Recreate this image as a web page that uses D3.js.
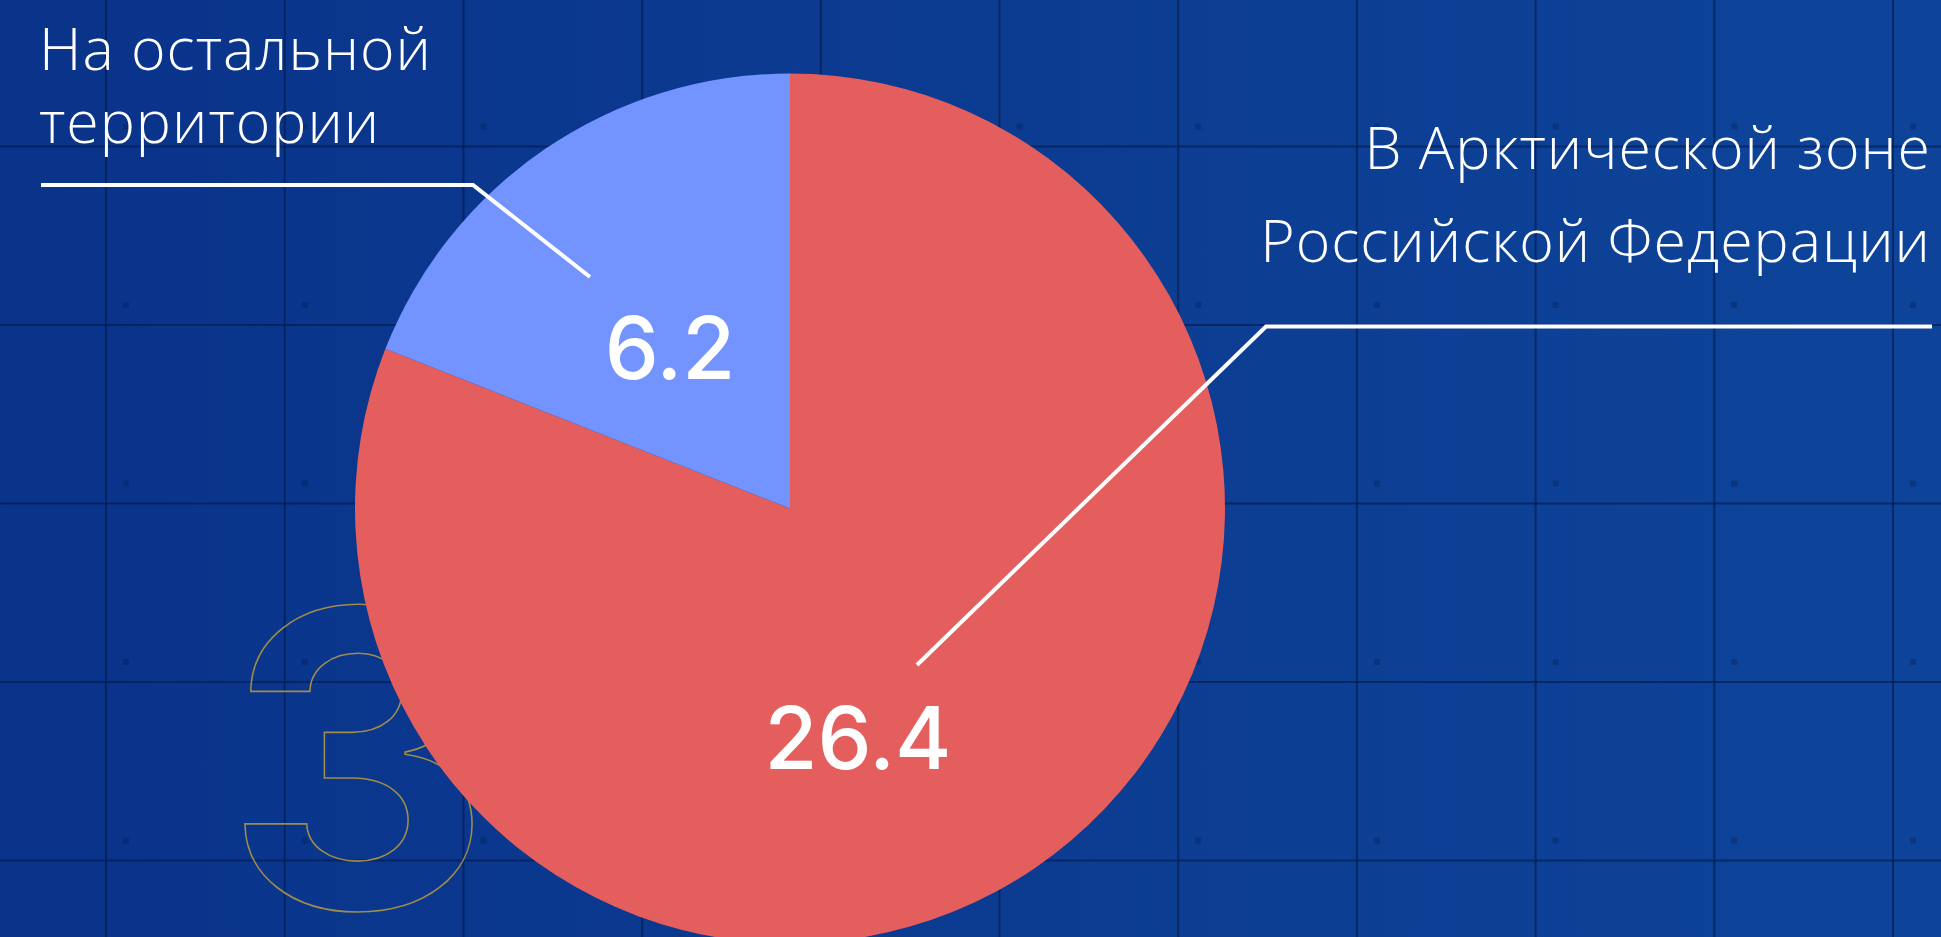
<!DOCTYPE html>
<html>
<head>
<meta charset="utf-8">
<script src="https://cdn.jsdelivr.net/npm/d3@7"></script>
<style>
  html, body { margin: 0; padding: 0; background: #0b3a8f; overflow: hidden; }
  svg { display: block; }
</style>
</head>
<body>
<div id="chart"></div>
<script>
// data
var categories = ["В Арктической зоне Российской Федерации", "На остальной территории"];
var values = [26.4, 6.2];
var valueLabels = ["26.4", "6.2"];
var sliceColors = ["#e55e5e", "#7393ff"];

function init() {
    var w = 1941;
    var h = 937;

    var svg = d3.select("#chart")
        .append("svg")
        .attr("width", w)
        .attr("height", h);

    // background gradient
    var grad = svg.append("defs").append("linearGradient")
        .attr("id", "bg")
        .attr("x1", "0%").attr("x2", "100%")
        .attr("y1", "0%").attr("y2", "0%");
    grad.append("stop").attr("offset", "0%").attr("stop-color", "#0a338a");
    grad.append("stop").attr("offset", "100%").attr("stop-color", "#0d4499");

    svg.append("rect")
        .attr("width", w)
        .attr("height", h)
        .attr("fill", "url(#bg)");

    // grid in the background
    var step = 178.7;
    var vx = d3.range(106, w, step);
    var hy = d3.range(146.7 - step, h + step, 178.5);
    var grid = svg.append("g");
    grid.selectAll("line.v")
        .data(vx)
        .enter()
        .append("line")
        .attr("x1", function(d) { return d; })
        .attr("x2", function(d) { return d; })
        .attr("y1", 0)
        .attr("y2", h)
        .attr("stroke", "rgba(4,24,72,0.6)")
        .attr("stroke-width", 2);
    grid.selectAll("line.h")
        .data(hy)
        .enter()
        .append("line")
        .attr("y1", function(d) { return d; })
        .attr("y2", function(d) { return d; })
        .attr("x1", 0)
        .attr("x2", w)
        .attr("stroke", "rgba(4,24,72,0.6)")
        .attr("stroke-width", 2);
    var dots = [];
    vx.forEach(function(x) {
        hy.forEach(function(y) { dots.push([x + 20, y - 20]); });
    });
    grid.selectAll("rect")
        .data(dots)
        .enter()
        .append("rect")
        .attr("x", function(d) { return d[0] - 3; })
        .attr("y", function(d) { return d[1] - 3; })
        .attr("width", 6)
        .attr("height", 6)
        .attr("fill", "rgba(4,24,72,0.3)");

    // big outlined "3" behind the pie
    svg.append("text")
        .attr("x", 358)
        .attr("y", 908)
        .attr("text-anchor", "middle")
        .style("font-family", "Inter, 'Open Sans', sans-serif")
        .style("font-weight", 700)
        .style("font-size", "412px")
        .attr("fill", "none")
        .attr("stroke", "#9e8d4a")
        .attr("stroke-width", 1.6)
        .text("3");

    // pie
    var cx = 790, cy = 508.5, r = 435;
    var pie = d3.pie().sort(null)(values);
    var arc = d3.arc().innerRadius(0).outerRadius(r);

    var g = svg.append("g")
        .attr("transform", "translate(" + cx + "," + cy + ")");

    g.selectAll("path")
        .data(pie)
        .enter()
        .append("path")
        .attr("d", arc)
        .attr("fill", function(d, i) { return sliceColors[i]; });

    // value labels (offsets from the pie centre)
    var valuePos = [[68, 260], [-120, -130]];
    g.selectAll("text.val")
        .data(valueLabels)
        .enter()
        .append("text")
        .attr("x", function(d, i) { return valuePos[i][0]; })
        .attr("y", function(d, i) { return valuePos[i][1]; })
        .attr("text-anchor", "middle")
        .style("font-family", "Inter, sans-serif")
        .style("font-weight", 550)
        .style("font-size", "86px")
        .attr("fill", "#ffffff")
        .text(function(d) { return d; });

    // category labels
    var labelFont = "'Open Sans', Lato, sans-serif";
    var left = svg.append("text")
        .style("font-family", labelFont)
        .style("font-weight", 300)
        .style("font-size", "59px")
        .style("letter-spacing", "1px")
        .attr("fill", "#ffffff");
    left.append("tspan").attr("x", 39).attr("y", 70).text("На остальной");
    left.append("tspan").attr("x", 39).attr("y", 143).text("территории");

    var right = svg.append("text")
        .attr("text-anchor", "end")
        .style("font-family", labelFont)
        .style("font-weight", 300)
        .style("font-size", "59px")
        .style("letter-spacing", "1px")
        .attr("fill", "#ffffff");
    right.append("tspan").attr("x", 1931).attr("y", 169).text("В Арктической зоне");
    right.append("tspan").attr("x", 1931).attr("y", 262).text("Российской Федерации");

    // leader lines
    var leaders = [
        [[1932, 326.5], [1266, 326.5], [917, 665]],
        [[41, 185], [473, 185], [590, 277]]
    ];
    svg.selectAll("path.leader")
        .data(leaders)
        .enter()
        .append("path")
        .attr("d", d3.line())
        .attr("fill", "none")
        .attr("stroke", "#ffffff")
        .attr("stroke-width", 4);
}

window.onload = init;
</script>
</body>
</html>
